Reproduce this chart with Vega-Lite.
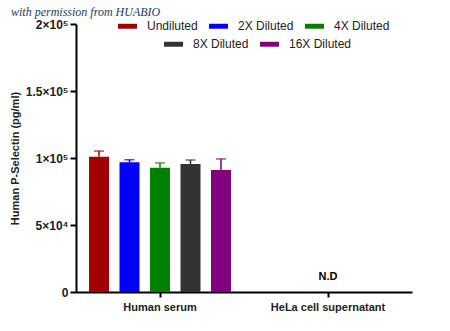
{
  "$schema": "https://vega.github.io/schema/vega-lite/v6.json",
  "autosize": "none",
  "width": 336,
  "height": 268,
  "padding": {"left": 76, "top": 24, "right": 38, "bottom": 39},
  "background": "white",
  "title": {
    "text": "with permission from HUABIO",
    "anchor": "start",
    "frame": "group",
    "font": "Liberation Serif",
    "fontStyle": "italic",
    "fontWeight": "normal",
    "fontSize": 12,
    "color": "#1f3a68",
    "dx": -65,
    "dy": 6,
    "offset": 4
  },
  "datasets": {
    "bars": [
      {"sample": "Human serum", "condition": "Undiluted", "mean": 101000, "upper": 105200},
      {"sample": "Human serum", "condition": "2X Diluted", "mean": 96800, "upper": 98700},
      {"sample": "Human serum", "condition": "4X Diluted", "mean": 92800, "upper": 96300},
      {"sample": "Human serum", "condition": "8X Diluted", "mean": 95500, "upper": 98500},
      {"sample": "Human serum", "condition": "16X Diluted", "mean": 91000, "upper": 99300}
    ],
    "notes": [
      {"sample": "HeLa cell supernatant", "label": "N.D"}
    ]
  },
  "encoding": {
    "x": {
      "field": "sample",
      "type": "nominal",
      "sort": null,
      "scale": {"domain": ["Human serum", "HeLa cell supernatant"], "paddingInner": 0, "paddingOuter": 0},
      "axis": {"title": null, "labelAngle": 0, "labelPadding": 4, "tickSize": 5}
    }
  },
  "layer": [
    {
      "data": {"name": "bars"},
      "transform": [{"filter": "indexof(['Undiluted','2X Diluted','4X Diluted'], datum.condition) >= 0"}],
      "encoding": {
        "xOffset": {
          "field": "condition",
          "type": "nominal",
          "scale": {"domain": ["Undiluted", "2X Diluted", "4X Diluted", "8X Diluted", "16X Diluted"], "paddingInner": 0.344, "paddingOuter": 0.427}
        },
        "color": {
          "field": "condition",
          "type": "nominal",
          "scale": {"domain": ["Undiluted", "2X Diluted", "4X Diluted"], "range": ["#a00000", "#0000ff", "#008000"]},
          "legend": {"orient": "none", "legendX": 42, "legendY": -7.5, "direction": "horizontal", "title": null, "padding": 0, "symbolType": "M-1,-0.26H1V0.26H-1Z", "symbolSize": 361, "symbolStrokeWidth": 0, "symbolOpacity": 1, "labelOffset": 10, "columnPadding": 11, "labelFontSize": 12, "labelFont": "Liberation Sans", "labelColor": "#222"}
        }
      },
      "layer": [
        {
          "mark": {"type": "bar"},
          "encoding": {
            "y": {
              "field": "mean",
              "type": "quantitative",
              "scale": {"domain": [0, 200000], "nice": false},
              "axis": {
                "title": "Human P-Selectin (pg/ml)",
                "values": [0, 50000, 100000, 150000, 200000],
                "labelExpr": "datum.value == 0 ? '0' : datum.value == 50000 ? '5×10⁴' : datum.value == 100000 ? '1×10⁵' : datum.value == 150000 ? '1.5×10⁵' : '2×10⁵'",
                "grid": false,
                "tickSize": 6,
                "labelPadding": 2,
                "labelFontSize": 12,
                "titlePadding": 5
              }
            }
          }
        },
        {
          "mark": {"type": "rule", "strokeWidth": 1.5},
          "encoding": {"y": {"field": "mean", "type": "quantitative"}, "y2": {"field": "upper"}}
        },
        {
          "mark": {"type": "tick", "thickness": 1.5, "size": 10},
          "encoding": {"y": {"field": "upper", "type": "quantitative"}}
        }
      ]
    },
    {
      "data": {"name": "bars"},
      "transform": [{"filter": "indexof(['8X Diluted','16X Diluted'], datum.condition) >= 0"}],
      "encoding": {
        "xOffset": {
          "field": "condition",
          "type": "nominal",
          "scale": {"domain": ["Undiluted", "2X Diluted", "4X Diluted", "8X Diluted", "16X Diluted"], "paddingInner": 0.344, "paddingOuter": 0.427}
        },
        "color": {
          "field": "condition",
          "type": "nominal",
          "scale": {"domain": ["8X Diluted", "16X Diluted"], "range": ["#333333", "#800080"]},
          "legend": {"orient": "none", "legendX": 88, "legendY": 10.5, "direction": "horizontal", "title": null, "padding": 0, "symbolType": "M-1,-0.26H1V0.26H-1Z", "symbolSize": 361, "symbolStrokeWidth": 0, "symbolOpacity": 1, "labelOffset": 10, "columnPadding": 11, "labelFontSize": 12, "labelFont": "Liberation Sans", "labelColor": "#222"}
        }
      },
      "layer": [
        {
          "mark": {"type": "bar"},
          "encoding": {"y": {"field": "mean", "type": "quantitative"}}
        },
        {
          "mark": {"type": "rule", "strokeWidth": 1.5},
          "encoding": {"y": {"field": "mean", "type": "quantitative"}, "y2": {"field": "upper"}}
        },
        {
          "mark": {"type": "tick", "thickness": 1.5, "size": 10},
          "encoding": {"y": {"field": "upper", "type": "quantitative"}}
        }
      ]
    },
    {
      "data": {"name": "notes"},
      "mark": {"type": "text", "font": "Liberation Sans", "fontWeight": "bold", "fontSize": 11, "baseline": "bottom", "dy": -10, "color": "black"},
      "encoding": {
        "y": {"datum": 0, "type": "quantitative"},
        "text": {"field": "label"}
      }
    }
  ],
  "resolve": {"scale": {"color": "independent"}},
  "config": {
    "view": {"stroke": null},
    "axis": {
      "domainColor": "black",
      "domainWidth": 2,
      "tickColor": "black",
      "tickWidth": 2,
      "labelFont": "Liberation Sans",
      "labelFontWeight": "bold",
      "labelFontSize": 11,
      "labelColor": "#222",
      "titleFont": "Liberation Sans",
      "titleFontWeight": "bold",
      "titleFontSize": 11,
      "titleColor": "#222"
    }
  }
}
